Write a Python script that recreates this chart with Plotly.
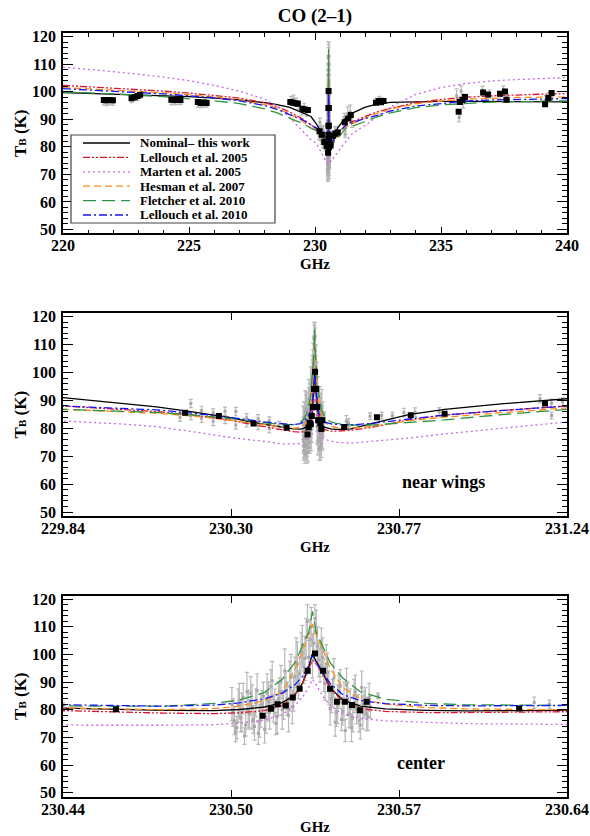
import plotly.graph_objects as go

# ---------------- model spectra (brightness temperature, K) ----------------
freq_model = [220.0, 222.0, 224.0, 225.0, 226.0, 227.0, 228.0, 228.5, 229.0, 229.5,
              229.84, 230.0, 230.1, 230.2, 230.3, 230.4, 230.45, 230.48, 230.5, 230.51,
              230.52, 230.527, 230.532, 230.535, 230.5375, 230.539, 230.5405, 230.543, 230.546, 230.551,
              230.558, 230.568, 230.584, 230.6, 230.64, 230.7, 230.8, 230.9, 231.05, 231.24,
              231.5, 232.0, 232.5, 233.0, 234.0, 235.0, 236.0, 237.0, 238.0, 239.0, 240.0]

nominal = [99.7, 99.2, 98.6, 98.2, 97.7, 97.0, 96.0, 95.3, 94.3, 92.5,
           91.0, 89.0, 87.7, 85.9, 83.9, 81.4, 80.3, 79.8, 79.7, 80.1,
           81.0, 82.6, 85.3, 89.5, 95.5, 100.2, 97.5, 93.5, 88.0, 83.5,
           81.3, 80.3, 79.8, 79.6, 79.8, 81.8, 84.9, 86.8, 88.7, 90.6,
           92.3, 94.4, 95.6, 96.1, 96.4, 96.5, 96.5, 96.4, 96.4, 96.3, 96.3]

lellouch_2005 = [102.3, 101.3, 100.2, 99.5, 98.7, 97.7, 96.0, 94.6, 92.6, 90.2,
                 88.0, 86.8, 86.0, 84.8, 83.0, 80.6, 79.4, 78.8, 78.6, 78.9,
                 79.7, 81.5, 85.5, 89.5, 94.5, 98.0, 96.5, 93.0, 88.0, 83.0,
                 80.4, 79.4, 79.0, 79.0, 79.3, 80.4, 83.0, 84.7, 86.3, 88.0,
                 89.2, 91.0, 92.8, 94.0, 96.0, 97.2, 98.0, 98.5, 98.9, 99.1, 99.3]

marten_2005 = [108.9, 107.3, 105.3, 104.0, 102.3, 100.2, 97.3, 94.8, 90.5, 86.0,
               82.6, 81.6, 80.6, 78.8, 76.8, 75.3, 74.4, 74.4, 74.6, 75.2,
               76.3, 78.2, 81.5, 84.5, 88.0, 91.0, 89.0, 85.0, 81.5, 78.5,
               76.8, 76.0, 75.4, 75.0, 74.7, 75.4, 76.5, 78.0, 80.0, 82.3,
               85.0, 87.8, 91.0, 94.5, 99.0, 101.5, 103.0, 103.9, 104.4, 104.8, 105.1]

hesman_2007 = [101.5, 100.6, 99.6, 98.9, 98.1, 97.0, 95.3, 94.0, 92.0, 89.3,
               86.8, 86.0, 85.4, 84.4, 83.0, 81.3, 80.4, 80.0, 80.4, 81.3,
               83.3, 86.5, 94.5, 101.0, 107.5, 111.0, 107.0, 102.0, 95.0, 88.0,
               84.0, 82.0, 80.8, 80.3, 80.0, 80.7, 82.7, 84.0, 85.5, 87.3,
               88.4, 90.5, 92.3, 93.7, 95.6, 96.6, 97.3, 97.7, 97.9, 98.0, 98.1]

fletcher_2010 = [99.9, 99.2, 98.2, 97.5, 96.7, 95.7, 93.8, 92.3, 90.3, 88.5,
                 86.8, 86.2, 85.7, 84.8, 83.6, 82.0, 81.3, 81.3, 82.3, 83.5,
                 86.3, 91.0, 97.0, 103.0, 108.0, 115.5, 108.0, 103.0, 97.0, 91.5,
                 86.5, 83.8, 82.3, 81.8, 81.2, 81.2, 82.0, 83.0, 84.8, 86.8,
                 87.5, 89.3, 91.0, 92.3, 94.2, 95.2, 95.8, 96.2, 96.4, 96.6, 96.7]

lellouch_2010 = [101.1, 100.2, 99.2, 98.5, 97.8, 96.7, 95.0, 93.6, 91.8, 89.8,
                 88.0, 87.2, 86.6, 85.4, 84.0, 82.3, 81.6, 81.3, 81.7, 82.5,
                 84.0, 86.0, 89.0, 92.0, 96.0, 100.0, 97.0, 93.5, 89.5, 85.5,
                 83.3, 82.2, 81.6, 81.4, 81.2, 81.8, 83.4, 84.8, 86.3, 88.0,
                 88.8, 90.3, 91.5, 93.0, 94.8, 95.8, 96.6, 97.0, 97.2, 97.4, 97.5]

model_names = ["Nominal\u2013 this work", "Lellouch et al. 2005", "Marten et al. 2005",
               "Hesman et al. 2007", "Fletcher et al. 2010", "Lellouch et al. 2010"]

# ---------------- binned observations ----------------
bin_freq = [221.62, 221.74, 221.86, 221.98, 222.72, 222.84, 222.96, 223.06,
            224.30, 224.42, 224.54, 224.66, 225.35, 225.47, 225.59, 225.70,
            229.02, 229.12, 229.22, 229.32, 229.50, 229.60, 229.72,
            230.179, 230.273, 230.369, 230.461,
            230.5192, 230.5225, 230.5252, 230.5284, 230.5312, 230.5339, 230.5371, 230.5400,
            230.5432, 230.5460, 230.5487, 230.5518, 230.5547, 230.5578, 230.5605,
            230.621, 230.712, 230.806, 230.900, 231.179, 231.32, 231.42,
            232.42, 232.52, 232.62, 232.72,
            235.70, 235.75, 235.85, 235.95, 236.67, 236.87,
            237.34, 237.54, 237.60, 239.13, 239.26, 239.39]
bin_tb = [97.0, 96.9, 97.0, 96.9, 97.6, 98.0, 98.4, 98.9,
          97.1, 97.0, 97.2, 97.0, 96.3, 95.9, 96.1, 95.9,
          96.3, 96.0, 95.8, 95.6, 93.8, 93.5, 93.4,
          85.6, 84.4, 81.7, 80.2,
          77.8, 80.4, 82.0, 81.5, 84.4, 87.6, 94.1, 100.3,
          94.1, 87.6, 82.9, 82.9, 81.7, 79.8, 82.9,
          80.5, 84.0, 84.7, 85.2, 88.9, 90.3, 91.5,
          96.0, 96.6, 96.2, 96.6,
          92.7, 96.3, 97.0, 98.1, 99.7, 99.0,
          99.3, 100.1, 97.1, 95.4, 97.7, 99.5]

# ---------------- individual observations with 1-sigma errors ----------------
# wings and far wings
raw_freq = [221.62, 221.74, 221.86, 221.98, 222.72, 222.84, 222.96, 223.06,
            224.30, 224.42, 224.54, 224.66, 225.35, 225.47, 225.59, 225.70,
            229.05, 229.15, 229.25, 229.35, 229.47, 229.57, 229.67,
            230.165, 230.195, 230.195, 230.225, 230.225, 230.257, 230.257, 230.29, 230.29,
            230.32, 230.32, 230.35, 230.35, 230.382, 230.382, 230.413, 230.413, 230.44,
            230.565, 230.627, 230.633, 230.693, 230.725, 230.755, 230.787, 230.818, 230.885,
            231.165, 231.197, 231.197, 231.228, 231.30, 231.40, 231.46,
            232.45, 232.55, 232.65,
            235.62, 235.72, 235.80, 235.88, 235.95, 236.65, 236.80, 236.92,
            237.35, 237.48, 237.60, 239.15, 239.28, 239.40]
raw_tb = [96.3, 95.9, 96.4, 96.0, 97.2, 97.7, 98.0, 98.6,
          96.5, 96.2, 96.6, 96.3, 95.6, 95.2, 95.5, 95.3,
          96.8, 97.3, 96.2, 95.2, 93.0, 94.3, 92.6,
          84.0, 88.9, 84.5, 86.4, 83.6, 85.5, 82.5, 86.1, 83.2,
          86.0, 81.2, 83.8, 82.0, 83.4, 81.0, 82.6, 79.9, 81.0,
          85.0, 82.6, 82.0, 84.3, 84.6, 84.5, 85.7, 85.8, 85.9,
          90.6, 89.0, 84.6, 89.4, 92.0, 92.6, 89.0,
          96.6, 97.1, 96.8,
          98.5, 90.6, 100.2, 96.6, 97.6, 100.5, 98.2, 99.2,
          98.6, 100.6, 98.2, 97.0, 98.2, 98.8]
raw_err = [1.2, 1.0, 1.2, 1.0, 1.2, 1.0, 1.2, 1.0,
           1.2, 1.0, 1.2, 1.0, 1.2, 1.0, 1.2, 1.0,
           1.5, 1.5, 1.5, 1.5, 1.5, 1.5, 1.5,
           1.5, 1.5, 1.5, 1.5, 1.5, 1.5, 1.5, 1.5, 1.5,
           1.5, 1.5, 1.5, 1.5, 1.5, 1.5, 1.5, 1.5, 1.5,
           1.0, 2.0, 1.5, 1.2, 1.2, 1.2, 1.5, 1.5, 1.5,
           1.5, 1.5, 1.2, 1.5, 2.5, 2.5, 2.0,
           1.0, 1.2, 1.0,
           2.5, 1.5, 2.0, 2.5, 1.5, 1.5, 1.5, 1.5,
           1.5, 1.5, 1.5, 1.5, 1.5, 1.5]

# line core, first scan
core1_freq = [230.5075, 230.5085, 230.5095, 230.5105, 230.5115, 230.5125, 230.5135, 230.5145,
              230.5155, 230.5165, 230.5175, 230.5185, 230.5195, 230.5205, 230.5215, 230.5225,
              230.5235, 230.5245, 230.5255, 230.5265, 230.5275, 230.5285, 230.5295, 230.5305,
              230.5315, 230.5325, 230.5335, 230.5345, 230.5355, 230.5365, 230.5375, 230.5385,
              230.5395, 230.5405, 230.5415, 230.5425, 230.5435, 230.5445, 230.5455, 230.5465,
              230.5475, 230.5485, 230.5495, 230.5505, 230.5515, 230.5525, 230.5535, 230.5545,
              230.5555, 230.5565, 230.5575, 230.5585, 230.5595, 230.5605, 230.5615]
core1_tb = [79.0, 72.0, 81.5, 77.0, 84.5, 74.5, 80.0, 86.0,
            76.5, 82.5, 71.5, 79.5, 85.0, 77.5, 83.0, 88.5,
            80.5, 75.0, 84.0, 90.0, 81.5, 87.0, 78.0, 92.0,
            85.5, 97.0, 89.0, 101.0, 95.5, 106.0, 99.0, 110.0,
            104.0, 108.0, 98.0, 102.5, 92.5, 96.5, 88.0, 84.0,
            91.5, 79.0, 86.5, 76.5, 83.0, 89.0, 78.5, 73.5,
            85.0, 80.0, 76.0, 88.0, 82.0, 78.5, 84.5]
core1_err = [5.0, 3.5, 6.0, 5.0, 5.0, 4.0, 7.0, 6.0,
             5.0, 5.0, 4.0, 6.0, 5.0, 6.0, 7.0, 6.0,
             5.0, 4.0, 6.0, 6.0, 5.0, 7.0, 6.0, 8.0,
             6.0, 9.0, 5.0, 7.0, 6.0, 7.0, 6.0, 7.0,
             6.0, 8.0, 6.0, 7.0, 6.0, 7.0, 6.0, 5.0,
             7.0, 5.0, 6.0, 4.0, 7.0, 6.0, 5.0, 5.0,
             6.0, 5.0, 4.0, 6.0, 5.0, 6.0, 5.0]

# line core, second scan
core2_freq = [230.5070, 230.5080, 230.5090, 230.5100, 230.5110, 230.5120, 230.5130, 230.5140,
              230.5150, 230.5160, 230.5170, 230.5180, 230.5190, 230.5200, 230.5210, 230.5220,
              230.5230, 230.5240, 230.5250, 230.5260, 230.5270, 230.5280, 230.5290, 230.5300,
              230.5310, 230.5320, 230.5330, 230.5340, 230.5350, 230.5360, 230.5370, 230.5380,
              230.5390, 230.5400, 230.5410, 230.5420, 230.5430, 230.5440, 230.5450, 230.5460,
              230.5470, 230.5480, 230.5490, 230.5500, 230.5510, 230.5520, 230.5530, 230.5540,
              230.5550, 230.5560, 230.5570, 230.5580, 230.5590, 230.5600, 230.5610, 230.5620]
core2_tb = [82.0, 76.0, 73.5, 83.5, 79.0, 70.5, 86.5, 78.5,
            81.0, 74.0, 87.0, 76.0, 82.0, 73.0, 86.0, 79.0,
            90.5, 82.5, 77.5, 86.5, 80.0, 94.0, 84.0, 88.5,
            81.0, 92.0, 96.5, 93.0, 103.5, 98.5, 112.0, 105.5,
            99.5, 113.0, 103.0, 96.0, 99.0, 89.5, 93.5, 80.5,
            86.0, 75.5, 82.0, 88.5, 79.5, 72.5, 84.0, 80.5,
            77.0, 86.5, 81.5, 74.5, 79.0, 83.0, 77.5, 81.0]
core2_err = [6.0, 5.0, 4.0, 6.0, 7.0, 3.0, 7.0, 5.0,
             8.0, 5.0, 6.0, 6.0, 5.0, 5.0, 7.0, 6.0,
             7.0, 5.0, 6.0, 5.0, 7.0, 8.0, 6.0, 9.0,
             6.0, 7.0, 8.0, 6.0, 7.0, 8.0, 6.0, 7.0,
             8.0, 5.0, 7.0, 6.0, 7.0, 6.0, 7.0, 6.0,
             5.0, 5.0, 7.0, 6.0, 5.0, 4.0, 6.0, 7.0,
             5.0, 6.0, 4.0, 5.0, 6.0, 5.0, 5.0, 4.0]

# ---------------- axis ticks ----------------
x1_range = [220.0, 240.0]
x2_range = [229.84, 231.24]
x3_range = [230.44, 230.64]
x1_ticks = [220, 225, 230, 235, 240]
x2_ticks = [229.84, 229.84 + 1.4 / 3, 229.84 + 2.8 / 3, 231.24]
x3_ticks = [230.44, 230.44 + 0.2 / 3, 230.44 + 0.4 / 3, 230.64]
x2_labels = ["229.84", "230.30", "230.77", "231.24"]
x3_labels = ["230.44", "230.50", "230.57", "230.64"]
y_ticks = [50, 60, 70, 80, 90, 100, 110, 120]

# ---------------- page geometry (pixels) ----------------
W, H = 590, 836
ML, MR, MT, MB = 63, 23, 33, 39
PW, PH = W - ML - MR, H - MT - MB
FONT = "Liberation Serif"


def px_x(px):
    return (px - ML) / PW


def px_y(py):
    return (H - MB - py) / PH


line_styles = [
    dict(color="black", dash="solid", width=1.3),
    dict(color="#e0142e", dash="7px,2px,2px,2px,2px,2px", width=1.3),
    dict(color="#cc66e6", dash="2px,3px", width=1.3),
    dict(color="#ff8c1a", dash="7px,4px", width=1.3),
    dict(color="#2e9444", dash="13px,6px", width=1.3),
    dict(color="#1414ff", dash="8px,3px,2px,3px", width=1.3),
]
model_values = [nominal, lellouch_2005, marten_2005, hesman_2007, fletcher_2010, lellouch_2010]

obs_freq = raw_freq + core1_freq + core2_freq
obs_tb = raw_tb + core1_tb + core2_tb
obs_err = raw_err + core1_err + core2_err

panels = [("x", "y"), ("x2", "y2"), ("x3", "y3")]
fig = go.Figure()
for xa, ya in panels:
    fig.add_trace(go.Scatter(
        x=obs_freq, y=obs_tb, xaxis=xa, yaxis=ya, mode="markers",
        marker=dict(symbol="square", size=3, color="#a8a8a8"),
        error_y=dict(type="data", array=obs_err, color="#b8b8b8", thickness=1.2, width=2),
        showlegend=False, hoverinfo="skip"))
    for vals, st in zip(model_values, line_styles):
        fig.add_trace(go.Scatter(x=freq_model, y=vals, xaxis=xa, yaxis=ya, mode="lines",
                                 line=st, showlegend=False))
    fig.add_trace(go.Scatter(
        x=bin_freq, y=bin_tb, xaxis=xa, yaxis=ya, mode="markers",
        marker=dict(symbol="square", size=6, color="black"),
        showlegend=False))

tickfont = dict(family=FONT, size=16, color="black", weight="bold")
ytitle = dict(text="<b>T<span style='font-size:11px'>B</span> (K)</b>",
              font=dict(family=FONT, size=17, color="black"), standoff=1)

yaxis_common = dict(range=[48.6, 121.2], tickvals=y_ticks,
                    ticks="inside", ticklen=10, tickwidth=1.3, tickcolor="black",
                    minor=dict(dtick=2, ticks="inside", ticklen=5, tickwidth=1, tickcolor="black"),
                    mirror="allticks", showline=True, linewidth=1.6, linecolor="black",
                    showgrid=False, zeroline=False, tickfont=tickfont, ticklabelstandoff=2,
                    ticklabeloverflow="allow", automargin=False, title=ytitle)
xaxis_common = dict(ticks="inside", ticklen=7, tickwidth=1.3, tickcolor="black",
                    mirror="allticks", showline=True, linewidth=1.6, linecolor="black",
                    showgrid=False, zeroline=False, tickfont=tickfont, ticklabelstandoff=-3,
                    ticklabeloverflow="allow", automargin=False)

fig.update_layout(
    width=W, height=H, autosize=False,
    margin=dict(l=ML, r=MR, t=MT, b=MB, pad=0),
    paper_bgcolor="white", plot_bgcolor="white", showlegend=False,
    title=dict(text="<b>CO (2\u20131)</b>", xref="paper", x=0.5, xanchor="center",
               yref="container", y=1 - 15 / H, yanchor="middle",
               font=dict(family=FONT, size=19, color="black")),
    xaxis=dict(xaxis_common, domain=[0, 1], anchor="y", range=x1_range, tickvals=x1_ticks,
               minor=dict(dtick=1, ticks="inside", ticklen=4, tickwidth=1, tickcolor="black")),
    yaxis=dict(yaxis_common, domain=[px_y(233.3), px_y(33.3)], anchor="x"),
    xaxis2=dict(xaxis_common, domain=[0, 1], anchor="y2", range=x2_range,
                tickvals=x2_ticks, ticktext=x2_labels),
    yaxis2=dict(yaxis_common, domain=[px_y(516), px_y(313.3)], anchor="x2"),
    xaxis3=dict(xaxis_common, domain=[0, 1], anchor="y3", range=x3_range,
                tickvals=x3_ticks, ticktext=x3_labels),
    yaxis3=dict(yaxis_common, domain=[max(0.0, px_y(796.7)), px_y(595.7)], anchor="x3"),
)

annotations = []
shapes = []
# frequency axis titles
for ghz_y in (264, 547, 827):
    annotations.append(dict(x=0.5, y=px_y(ghz_y), xref="paper", yref="paper",
                            xanchor="center", yanchor="middle",
                            text="<b>GHz</b>", showarrow=False,
                            font=dict(family=FONT, size=15, color="black")))
# panel labels
annotations.append(dict(x=px_x(443), y=px_y(482), xref="paper", yref="paper",
                        xanchor="center", yanchor="middle",
                        text="<b>near wings</b>", showarrow=False,
                        font=dict(family=FONT, size=18, color="black")))
annotations.append(dict(x=px_x(421), y=px_y(763), xref="paper", yref="paper",
                        xanchor="center", yanchor="middle",
                        text="<b>center</b>", showarrow=False,
                        font=dict(family=FONT, size=18, color="black")))

# legend box in the top panel
shapes.append(dict(type="rect", xref="paper", yref="paper",
                   x0=px_x(71), x1=px_x(275), y0=px_y(223), y1=px_y(135),
                   line=dict(color="#444444", width=1.2), fillcolor="white"))
row_y = [143.0, 157.4, 171.8, 186.2, 200.6, 215.0]
for name, st, yy in zip(model_names, line_styles, row_y):
    shapes.append(dict(type="line", xref="paper", yref="paper",
                       x0=px_x(83), x1=px_x(130), y0=px_y(yy), y1=px_y(yy),
                       line=dict(color=st["color"], dash=st["dash"], width=st["width"])))
    annotations.append(dict(x=px_x(139), y=px_y(yy), xref="paper", yref="paper",
                            xanchor="left", yanchor="middle", text="<b>" + name + "</b>",
                            showarrow=False, borderpad=0,
                            font=dict(family=FONT, size=13, color="black")))

fig.update_layout(annotations=annotations, shapes=shapes)
fig.write_html("out.html")
